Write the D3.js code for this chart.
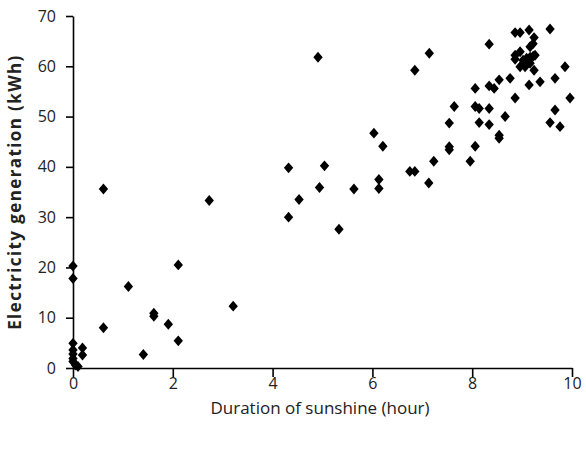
<!DOCTYPE html>
<html><head><meta charset="utf-8">
<script src="https://cdn.jsdelivr.net/npm/d3@7"></script>
<style>
html,body{margin:0;padding:0;background:#fff;}
text{font-family:"Open Sans",sans-serif;fill:#222;}
</style></head>
<body><svg id="c" width="586" height="454"></svg>
<script>
// Data
const sunshineHours = [0,0,0,0,0,0,0,0.05,0.1,0.19,0.19,
  0.61,0.61,1.11,1.41,1.62,1.62,1.91,2.11,2.11,
  2.73,3.21,4.32,4.32,4.53,4.91,4.94,5.04,5.33,5.63,
  6.03,6.13,6.13,6.21,6.75,6.85,6.85,7.13,7.14,7.23,
  7.54,7.54,7.54,7.64,7.96,8.06,8.06,8.06,8.14,8.14,
  8.34,8.34,8.34,8.34,8.44,8.54,8.54,8.54,8.66,8.76,
  8.86,8.86,8.86,8.86,8.96,8.96,8.96,9.02,9.06,9.09,
  9.14,9.14,9.16,9.16,9.16,9.22,9.22,9.24,9.24,9.26,
  9.36,9.56,9.56,9.66,9.66,9.76,9.86,9.96];
const generationKWh = [20.3,17.8,4.9,3.6,2.8,1.9,1.3,0.6,0.3,4.0,2.6,
  35.6,8.0,16.2,2.7,10.9,10.3,8.7,20.5,5.4,
  33.3,12.3,39.8,30.0,33.5,61.8,35.9,40.2,27.6,35.6,
  46.7,37.5,35.7,44.1,39.1,39.1,59.2,36.8,62.6,41.1,
  48.7,44.0,43.4,52.0,41.1,55.6,52.0,44.1,51.6,48.8,
  64.4,56.1,51.6,48.4,55.6,57.3,46.3,45.7,50.0,57.6,
  66.7,62.2,61.4,53.7,66.7,62.9,59.9,61.2,59.9,61.6,
  67.2,56.3,63.9,61.8,60.6,64.5,62.0,65.7,59.2,62.2,
  56.9,67.4,48.8,57.6,51.3,48.0,59.9,53.7];
const xTicks = [0,2,4,6,8,10];
const yTicks = [0,10,20,30,40,50,60,70];
const xTitle = "Duration of sunshine (hour)";
const yTitle = "Electricity generation (kWh)";

const svg = d3.select("#c");
const x = d3.scaleLinear().domain([0,10]).range([73,572]);
const y = d3.scaleLinear().domain([0,70]).range([368,16]);

const xAxis = svg.append("g").attr("transform","translate(0,368)")
  .call(d3.axisBottom(x).tickValues(xTicks).tickSize(9).tickPadding(1).tickSizeOuter(0));
const yAxis = svg.append("g").attr("transform","translate(73,0)")
  .call(d3.axisLeft(y).tickValues(yTicks).tickSize(7).tickPadding(10).tickSizeOuter(0));
[xAxis,yAxis].forEach(g=>{
  g.select(".domain").attr("stroke","#000").attr("stroke-width",1.6);
  g.selectAll(".tick line").attr("stroke","#000").attr("stroke-width",1.6);
  g.selectAll(".tick text").attr("font-size",16).attr("fill","#222")
    .style("font-family",'"Open Sans",sans-serif');
});

const pts = sunshineHours.map((h,i)=>({h, g:generationKWh[i]}));
const sym = d3.symbol().type(d3.symbolSquare).size(54);
svg.append("g").selectAll("path").data(pts).join("path")
  .attr("d", sym)
  .attr("transform", d=>`translate(${x(d.h)},${y(d.g)}) scale(0.9,1.05) rotate(45)`)
  .attr("fill","#000");

svg.append("text").attr("x",320).attr("y",414).attr("text-anchor","middle")
  .attr("font-size",17).text(xTitle);
svg.append("text").attr("transform","translate(21,192) rotate(-90)")
  .attr("text-anchor","middle").attr("font-size",17).attr("font-weight","bold")
  .attr("letter-spacing",1.4).text(yTitle);
</script></body></html>
